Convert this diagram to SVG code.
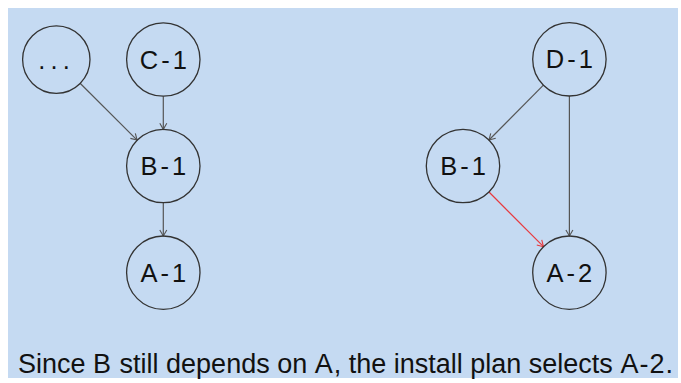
<svg xmlns="http://www.w3.org/2000/svg" width="681" height="383" viewBox="0 0 681 383">
  <style>
    .node circle { fill: none; stroke: #333333; stroke-width: 1.3; }
    .node text { font-family: "Liberation Sans", Arial, sans-serif; font-size: 25.5px; letter-spacing: 3px; fill: #111111; text-anchor: middle; }
    .edge { fill: none; stroke: #555555; stroke-width: 1.2; }
    .edge.red { stroke: #e8383d; }
    .caption { font-family: "Liberation Sans", Arial, sans-serif; font-size: 27px; fill: #111111; }
    .code { letter-spacing: 1px; }
  </style>
  <defs>
    <marker id="vee" viewBox="-8 -5 10 10" markerWidth="10" markerHeight="10" refX="0" refY="0" orient="auto" markerUnits="userSpaceOnUse">
      <path d="M-6,-3.5 L0,0 L-6,3.5" fill="none" stroke="#555555" stroke-width="1.1"/>
    </marker>
    <marker id="vee-red" viewBox="-8 -5 10 10" markerWidth="10" markerHeight="10" refX="0" refY="0" orient="auto" markerUnits="userSpaceOnUse">
      <path d="M-6,-3.5 L0,0 L-6,3.5" fill="none" stroke="#e8383d" stroke-width="1.1"/>
    </marker>
  </defs>

  <rect x="0" y="0" width="681" height="383" fill="#ffffff"/>
  <rect x="8" y="8" width="670" height="370" fill="#c5daf2"/>

  <g id="connectors">
    <!-- left graph -->
    <line class="edge" x1="80.1" y1="83.3" x2="137.1" y2="140.1" marker-end="url(#vee)"/>
    <line class="edge" x1="163.3" y1="96.2" x2="163.3" y2="129.3" marker-end="url(#vee)"/>
    <line class="edge" x1="163.3" y1="202.7" x2="163.3" y2="236" marker-end="url(#vee)"/>
    <!-- right graph -->
    <line class="edge" x1="543.4" y1="85.1" x2="489" y2="140" marker-end="url(#vee)"/>
    <line class="edge" x1="569.4" y1="96" x2="569.4" y2="236" marker-end="url(#vee)"/>
    <line class="edge red" x1="489" y1="192" x2="543.5" y2="246.7" marker-end="url(#vee-red)"/>
  </g>

  <g id="node-etc" class="node">
    <circle cx="56.3" cy="59.6" r="33.7"/>
    <text x="56.6" y="68.8" style="letter-spacing:5.2px">...</text>
  </g>
  <g id="node-c1" class="node">
    <circle cx="163.3" cy="59.5" r="36.7"/>
    <text x="164.8" y="68.6">C-1</text>
  </g>
  <g id="node-b1-left" class="node">
    <circle cx="163.3" cy="166" r="36.7"/>
    <text x="164.8" y="175.1">B-1</text>
  </g>
  <g id="node-a1" class="node">
    <circle cx="163.3" cy="272.7" r="36.7"/>
    <text x="164.8" y="281.8">A-1</text>
  </g>
  <g id="node-d1" class="node">
    <circle cx="569.4" cy="59.3" r="36.7"/>
    <text x="570.9" y="68.4">D-1</text>
  </g>
  <g id="node-b1-right" class="node">
    <circle cx="463" cy="166" r="36.7"/>
    <text x="464.5" y="175.1">B-1</text>
  </g>
  <g id="node-a2" class="node">
    <circle cx="569.4" cy="272.7" r="36.7"/>
    <text x="570.9" y="281.8">A-2</text>
  </g>

  <text class="caption" x="18" y="372.5">Since <tspan class="code">B</tspan> still depends on <tspan class="code">A</tspan>, the install plan selects <tspan class="code">A-2</tspan>.</text>
</svg>
